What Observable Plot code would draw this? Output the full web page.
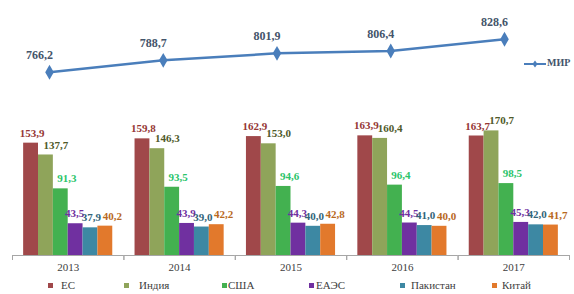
<!DOCTYPE html>
<html>
<head>
<meta charset="utf-8">
<script src="https://cdn.jsdelivr.net/npm/d3@7"></script>
<script src="https://cdn.jsdelivr.net/npm/@observablehq/plot@0.6"></script>
<style>
  html, body { margin: 0; padding: 0; background: #fff; }
  #chart { position: relative; width: 574px; height: 294px; overflow: hidden; font-family: "Liberation Serif", "DejaVu Serif", serif; }
  #chart svg { display: block; font-family: "Liberation Serif", "DejaVu Serif", serif !important; }
  #chart svg text { font-family: "Liberation Serif", "DejaVu Serif", serif; }
  .leg { position: absolute; top: 278px; height: 14px; font-size: 11px; color: #404040; line-height: 14px; white-space: nowrap; }
  .leg span.sw { display: inline-block; width: 5px; height: 5px; vertical-align: middle; position: relative; top: -1px; }
  #mir { position: absolute; left: 524px; top: 56px; font-size: 10px; font-weight: bold; color: #44546A; line-height: 14px; white-space: nowrap; }
  #mir svg { display: inline-block; vertical-align: middle; }
</style>
</head>
<body>
<div id="chart"></div>
<script>
// ---- data ----
const years = ["2013", "2014", "2015", "2016", "2017"];
const series = ["ЕС", "Индия", "США", "ЕАЭС", "Пакистан", "Китай"];
const worldValues = [766.2, 788.7, 801.9, 806.4, 828.6];
const esValues = [153.9, 159.8, 162.9, 163.9, 163.7];
const indiaValues = [137.7, 146.3, 153.0, 160.4, 170.7];
const usaValues = [91.3, 93.5, 94.6, 96.4, 98.5];
const eaesValues = [43.5, 43.9, 44.3, 44.5, 45.3];
const pakistanValues = [37.9, 39.0, 40.0, 41.0, 42.0];
const chinaValues = [40.2, 42.2, 42.8, 40.0, 41.7];
const worldName = "МИР";

// ---- styles ----
const font = "\"Liberation Serif\", \"DejaVu Serif\", serif";
const barColors = ["#A0484A", "#8FA45A", "#43B150", "#7030A0", "#3D88A3", "#E2792C"];
const labelColors = ["#953735", "#4F5A2A", "#2BC46A", "#7030A0", "#31657A", "#B8691F"];
const labelDx = [1, 10, 6, -1, 1, 7];
const legendLeft = [48, 124, 222, 309, 400, 492];
const legendGap = [8, 10, 1, 2, 6, 5];
const lineColor = "#4A7EBB";
const lineLabelColor = "#44546A";

const fmt = v => d3.format(".1f")(v).replace(".", ",");

const seriesValues = [esValues, indiaValues, usaValues, eaesValues, pakistanValues, chinaValues];
const rows = [];
series.forEach((s, i) => years.forEach((y, j) => rows.push({year: y, series: s, value: seriesValues[i][j]})));
const worldRows = years.map((y, j) => ({year: y, value: worldValues[j]}));

const chart = document.getElementById("chart");

// ---- top line chart ----
const lineChart = Plot.plot({
  width: 574, height: 100, margin: 0,
  style: {fontFamily: font, background: "transparent"},
  x: {type: "point", domain: years, range: [49, 504], padding: 0, round: false, axis: null},
  y: {domain: [760, 840], range: [75, 32.7], axis: null},
  marks: [
    Plot.line(worldRows, {x: "year", y: "value", stroke: lineColor, strokeWidth: 2.5}),
    Plot.dot(worldRows, {x: "year", y: "value", symbol: "diamond", r: 4.5, fill: lineColor, stroke: null}),
    Plot.text(worldRows, {x: "year", y: "value", text: d => fmt(d.value), dx: -10, dy: -17,
      fill: lineLabelColor, fontWeight: "bold", fontSize: 12, fontFamily: font})
  ]
});
chart.appendChild(lineChart);

// ---- bottom grouped bar chart ----
const labelMarks = series.map((s, i) => Plot.text(rows.filter(d => d.series === s), {
  fx: "year", x: "series", y: "value", text: d => fmt(d.value),
  dx: labelDx[i], dy: -10, fill: labelColors[i], fontWeight: "bold", fontSize: 11, fontFamily: font
}));

const barChart = Plot.plot({
  width: 574, height: 176,
  marginLeft: 12, marginRight: 5, marginTop: 9, marginBottom: 17,
  style: {fontFamily: font, background: "transparent"},
  fx: {domain: years, paddingInner: 0, paddingOuter: 0, round: false, label: null},
  x: {domain: series, paddingInner: 0, paddingOuter: 0.75, round: false, axis: null},
  y: {domain: [0, 200], range: [155, 9], axis: null},
  color: {domain: series, range: barColors},
  marks: [
    Plot.barY(rows, {fx: "year", x: "series", y: "value", fill: "series", inset: 0}),
    Plot.ruleY([0], {stroke: "#A6A6A6", strokeWidth: 1}),
    Plot.frame({anchor: "left", insetTop: 146, stroke: "#A6A6A6"}),
    Plot.frame({anchor: "right", insetTop: 146, stroke: "#A6A6A6"}),
    ...labelMarks,
    Plot.axisFx({anchor: "bottom", tickSize: 0, tickPadding: 4, fontSize: 11, fill: "#404040", label: null, fontFamily: font})
  ]
});
chart.appendChild(barChart);

// ---- legends ----
series.forEach((s, i) => {
  const d = document.createElement("div");
  d.className = "leg";
  d.style.left = legendLeft[i] + "px";
  d.innerHTML = `<span class="sw" style="background:${barColors[i]}"></span><span style="margin-left:${legendGap[i]}px">${s}</span>`;
  chart.appendChild(d);
});

const mir = document.createElement("div");
mir.id = "mir";
mir.innerHTML = `<svg width="22" height="10"><line x1="0" x2="22" y1="5" y2="5" stroke="${lineColor}" stroke-width="2"/><path d="M11,1.5L13.5,5L11,8.5L8.5,5Z" fill="${lineColor}"/></svg><span style="margin-left:1px">${worldName}</span>`;
chart.appendChild(mir);
</script>
</body>
</html>
